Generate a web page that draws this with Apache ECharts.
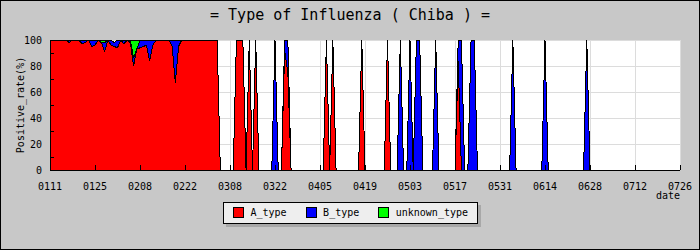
<!DOCTYPE html>
<html>
<head>
<meta charset="utf-8">
<script src="https://cdn.jsdelivr.net/npm/echarts@6/dist/echarts.min.js"></script>
<style>
html,body{margin:0;padding:0;background:#c8c8c8;}
#chart{width:700px;height:250px;}
#chart svg path{shape-rendering:crispEdges;}
</style>
</head>
<body>
<div id="chart"></div>
<script>
// ---- data (one value per day, 0111 .. 0726; each row = 14 days) ----
const startDay = '2005-01-11';
const dayCount = 197;
const tickLabels = ['0111','0125','0208','0222','0308','0322','0405','0419','0503','0517','0531','0614','0628','0712','0726'];
const seriesNames = ['A_type','B_type','unknown_type'];

const aType = [
  100,100,100,100,100,100,98,100,100,100,97,98,100,95,
  96,100,98,91,100,96,95,94,100,97,100,98,80,93,
  94,95,96,84,96,100,100,100,100,100,95,67,95,100,
  100,100,100,100,100,100,100,100,100,100,100,0,0,0,
  0,0,100,100,100,0,100,0,100,0,0,0,0,0,
  0,0,0,92,75,0,0,0,0,0,0,0,0,0,
  0,0,100,0,100,0,0,0,0,0,0,0,0,100,
  0,0,0,0,0,0,0,100,0,0,0,0,0,0,
  0,0,0,0,0,0,0,0,0,0,0,0,0,0,
  0,84,0,0,0,0,0,0,0,0,0,0,0,0,
  0,0,0,0,0,0,0,0,0,0,0,0,0,0,
  0,0,0,0,0,0,0,0,0,0,0,0,0,0,
  0,0,0,0,0,0,0,0,0,0,0,0,0,0,
  0,0,0,0,0,0,0,0,0,0,0,0,0,0,
  0
];
const bType = [
  0,0,0,0,0,0,2,0,0,0,3,2,0,5,
  4,0,0,7,0,4,3,6,0,3,0,2,6,0,
  6,5,4,16,4,0,0,0,0,0,5,33,5,0,
  0,0,0,0,0,0,0,0,0,0,0,0,0,0,
  0,0,0,0,0,0,0,0,0,0,0,0,0,0,
  100,0,0,8,25,0,0,0,0,0,0,0,0,0,
  0,0,0,0,0,0,0,0,0,0,0,0,0,0,
  0,0,0,0,0,0,0,0,0,0,0,100,0,0,
  100,0,100,100,0,0,0,0,100,0,0,0,0,0,
  0,16,100,0,0,100,100,0,0,0,0,0,0,0,
  0,0,0,0,100,0,0,0,0,0,0,0,0,0,
  100,0,0,0,0,0,0,0,0,0,0,0,0,100,
  0,0,0,0,0,0,0,0,0,0,0,0,0,0,
  0,0,0,0,0,0,0,0,0,0,0,0,0,0,
  0
];
const unknownType = [
  0,0,0,0,0,0,0,0,0,0,0,0,0,0,
  0,0,2,2,0,0,0,0,0,0,0,0,14,7,
  0,0,0,0,0,0,0,0,0,0,0,0,0,0,
  0,0,0,0,0,0,0,0,0,0,0,0,0,0,
  0,0,0,0,0,0,0,0,0,0,0,0,0,0,
  0,0,0,0,0,0,0,0,0,0,0,0,0,0,
  0,0,0,0,0,0,0,0,0,0,0,0,0,0,
  0,0,0,0,0,0,0,0,0,0,0,0,0,0,
  0,0,0,0,0,0,0,0,0,0,0,0,0,0,
  0,0,0,0,0,0,0,0,0,0,0,0,0,0,
  0,0,0,0,0,0,0,0,0,0,0,0,0,0,
  0,0,0,0,0,0,0,0,0,0,0,0,0,0,
  0,0,0,0,0,0,0,0,0,0,0,0,0,0,
  0,0,0,0,0,0,0,0,0,0,0,0,0,0,
  0
];

// daily categories (MMDD)
const dates = [];
{
  const d0 = new Date(startDay + 'T00:00:00Z');
  for (let i = 0; i < dayCount; i++) {
    const d = new Date(d0.getTime() + i * 86400000);
    const mm = String(d.getUTCMonth() + 1).padStart(2, '0');
    const dd = String(d.getUTCDate()).padStart(2, '0');
    dates.push(mm + dd);
  }
}

const MONO = 'DejaVu Sans Mono';
const colors = ['#ff0000', '#0000ff', '#00ff00'];
const values = [aType, bType, unknownType];

const chart = echarts.init(document.getElementById('chart'), null, {renderer: 'svg'});
chart.setOption({
  animation: false,
  backgroundColor: '#c8c8c8',
  title: {
    text: '= Type of Influenza ( Chiba ) =',
    left: 'center',
    top: 2,
    textStyle: {fontFamily: MONO, fontSize: 15, fontWeight: 'normal', color: '#000'}
  },
  legend: {
    left: 223,
    top: 202,
    orient: 'horizontal',
    padding: [5, 10, 5, 10],
    itemGap: 19,
    itemWidth: 10,
    itemHeight: 10,
    icon: 'rect',
    selectedMode: false,
    backgroundColor: '#eeeeee',
    borderColor: '#000',
    borderWidth: 1,
    borderRadius: 0,
    shadowColor: '#a8a8a8',
    shadowBlur: 0,
    shadowOffsetX: 3,
    shadowOffsetY: 3,
    textStyle: {fontFamily: MONO, fontSize: 10, color: '#000', padding: [0, 0, 0, 2]},
    itemStyle: {borderColor: '#000', borderWidth: 1},
    data: seriesNames.map((n, k) => ({name: n, itemStyle: {color: colors[k], borderColor: '#000', borderWidth: 1}}))
  },
  grid: {left: 50, right: 20, top: 40, bottom: 80, show: true, backgroundColor: '#ffffff', borderWidth: 0, outerBoundsMode: 'none', containLabel: false},
  xAxis: [
    {
      type: 'category',
      data: dates,
      boundaryGap: false,
      position: 'bottom',
      axisLine: {show: false},
      axisTick: {show: false},
      axisLabel: {
        interval: 13, color: '#000', fontFamily: MONO, fontSize: 10, margin: 11,
        formatter: (v, idx) => tickLabels[idx / 14] !== undefined ? tickLabels[idx / 14] : v
      },
      splitLine: {show: true, interval: 13, lineStyle: {color: '#dcdcdc', width: 1}}
    },
    {
      type: 'category',
      data: dates,
      boundaryGap: false,
      position: 'bottom',
      z: 10,
      axisLine: {show: true, lineStyle: {color: '#000', width: 1}},
      axisTick: {show: true, inside: true, length: 5, interval: 13, lineStyle: {color: '#000'}},
      axisLabel: {show: false},
      splitLine: {show: false}
    }
  ],
  yAxis: [
    {
      type: 'value', min: 0, max: 100, interval: 20, position: 'left',
      axisLine: {show: false},
      axisTick: {show: false},
      axisLabel: {color: '#000', fontFamily: MONO, fontSize: 10, margin: 8},
      splitLine: {show: true, lineStyle: {color: '#dcdcdc', width: 1}},
      name: 'Positive_rate(%)',
      nameLocation: 'middle',
      nameRotate: 90,
      nameGap: 25,
      nameMoveOverlap: false,
      nameTextStyle: {fontFamily: MONO, fontSize: 10, color: '#000'}
    },
    {
      type: 'value', min: 0, max: 100, interval: 20, position: 'left', z: 10,
      axisLine: {show: true, lineStyle: {color: '#000', width: 1}},
      axisTick: {show: false, inside: true},
      minorTick: {show: true, splitNumber: 2, length: 4, lineStyle: {color: '#000', width: 1}},
      axisLabel: {show: false},
      splitLine: {show: false}
    }
  ],
  series: seriesNames.map((n, k) => ({
    name: n,
    type: 'line',
    stack: 'total',
    xAxisIndex: 0,
    yAxisIndex: 0,
    data: values[k],
    symbol: 'none',
    showSymbol: false,
    color: colors[k],
    itemStyle: {color: colors[k]},
    lineStyle: {color: '#000', width: 1},
    areaStyle: {color: colors[k], opacity: 1}
  })),
  graphic: [
    {
      type: 'text',
      x: 680, y: 190,
      silent: true,
      style: {text: 'date', align: 'right', verticalAlign: 'top', fontFamily: MONO, fontSize: 10, fill: '#000'}
    },
    {
      type: 'rect',
      shape: {x: 0.5, y: 0.5, width: 699, height: 249},
      style: {fill: 'none', stroke: '#000', lineWidth: 1},
      z: 100,
      silent: true
    }
  ]
});
</script>
</body>
</html>
